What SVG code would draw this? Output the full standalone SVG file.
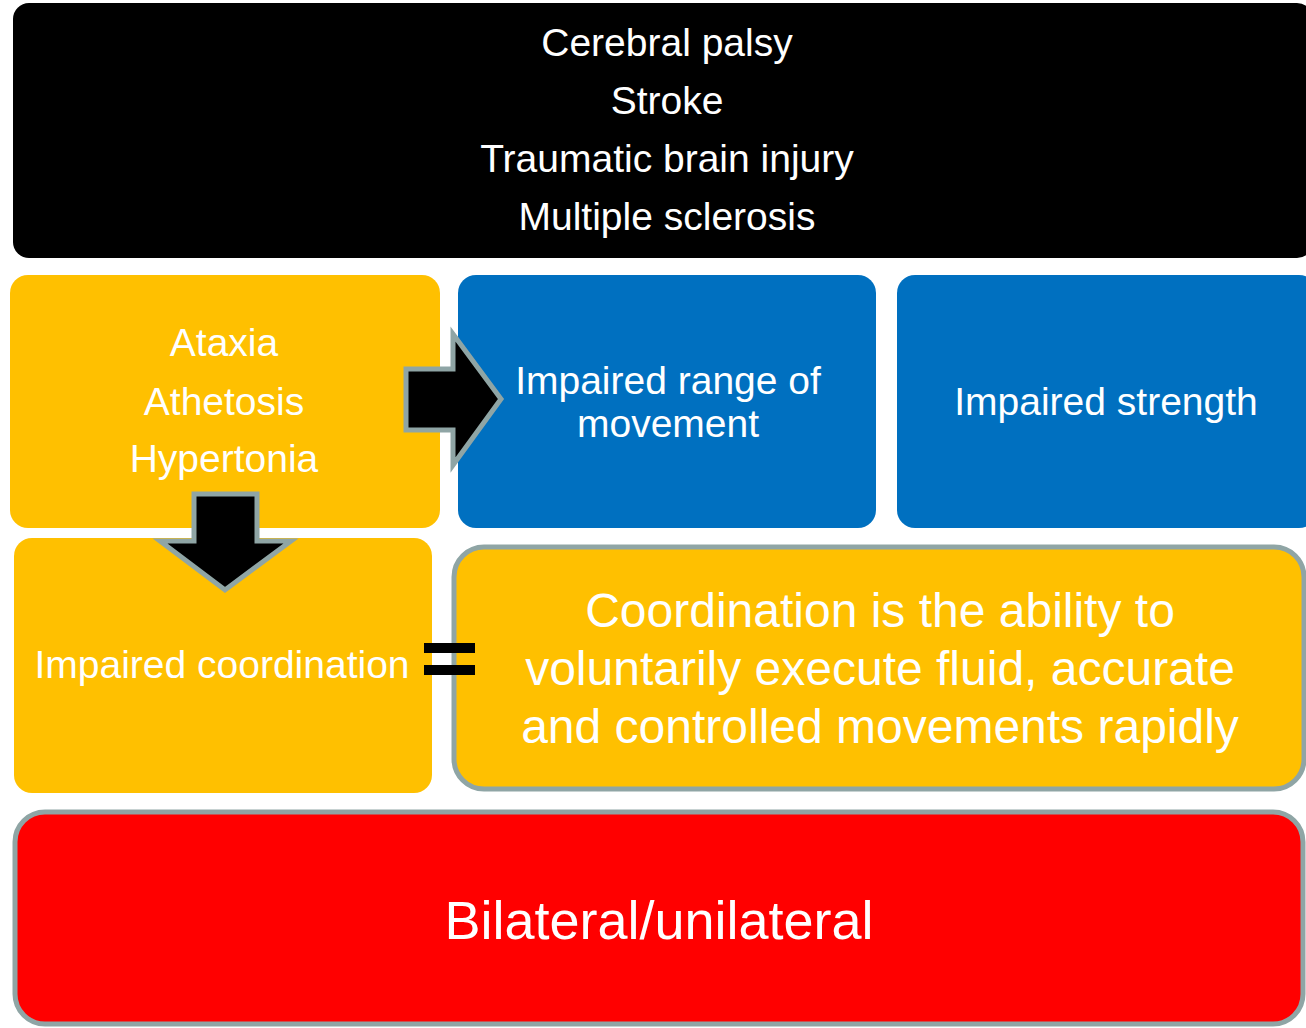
<svg xmlns="http://www.w3.org/2000/svg" width="1306" height="1028" viewBox="0 0 1306 1028">
  <style>
    .lbl { font-family: "Liberation Sans", Arial, sans-serif; fill: #ffffff; text-anchor: middle; }
    .t39 { font-size: 39px; }
    .t48 { font-size: 48px; }
    .t54 { font-size: 54px; }
    .yellow { fill: #ffc000; }
    .blue { fill: #0070c0; }
    .edged { stroke: #8fa5a5; stroke-width: 5; }
    .arrow { fill: #000000; stroke: #8fa5a5; stroke-width: 5; stroke-linejoin: miter; }
  </style>
  <rect width="1306" height="1028" fill="#ffffff"/>

  <g id="conditions">
    <rect x="13" y="3" width="1300" height="255" rx="16" fill="#000000"/>
    <text class="lbl t39" x="667" y="56">Cerebral palsy</text>
    <text class="lbl t39" x="667" y="114">Stroke</text>
    <text class="lbl t39" x="667" y="172">Traumatic brain injury</text>
    <text class="lbl t39" x="667" y="230">Multiple sclerosis</text>
  </g>

  <g id="symptoms">
    <rect class="yellow" x="10" y="275" width="430" height="253" rx="18"/>
    <text class="lbl t39" x="224" y="356">Ataxia</text>
    <text class="lbl t39" x="224" y="415">Athetosis</text>
    <text class="lbl t39" x="224" y="472">Hypertonia</text>
  </g>

  <g id="range">
    <rect class="blue" x="458" y="275" width="418" height="253" rx="18"/>
    <text class="lbl t39" x="668" y="394">Impaired range of</text>
    <text class="lbl t39" x="668" y="437">movement</text>
  </g>

  <g id="strength">
    <rect class="blue" x="897" y="275" width="420" height="253" rx="18"/>
    <text class="lbl t39" x="1106" y="415">Impaired strength</text>
  </g>

  <g id="coordination">
    <rect class="yellow" x="14" y="538" width="418" height="255" rx="18"/>
    <text class="lbl t39" x="222" y="678">Impaired coordination</text>
  </g>

  <g id="definition">
    <rect class="yellow edged" x="454" y="547" width="850" height="242" rx="30"/>
    <text class="lbl t48" x="880" y="627">Coordination is the ability to</text>
    <text class="lbl t48" x="880" y="685">voluntarily execute fluid, accurate</text>
    <text class="lbl t48" x="880" y="743">and controlled movements rapidly</text>
  </g>

  <g id="laterality">
    <rect fill="#ff0000" class="edged" x="15" y="812" width="1288" height="212" rx="30"/>
    <text class="lbl t54" x="659" y="939">Bilateral/unilateral</text>
  </g>

  <g id="connectors">
    <!-- right block arrow: symptoms to range of movement -->
    <polygon class="arrow" points="406,369 453,369 453,334 501,399 453,465 453,430 406,430"/>
    <!-- down block arrow: symptoms to impaired coordination -->
    <polygon class="arrow" points="194,494 257,494 257,541 291,541 225,590 160,541 194,541"/>
    <!-- equals sign between impaired coordination and its definition -->
    <rect x="424" y="643" width="51" height="10" fill="#000000"/>
    <rect x="424" y="665" width="51" height="10" fill="#000000"/>
  </g>
</svg>
